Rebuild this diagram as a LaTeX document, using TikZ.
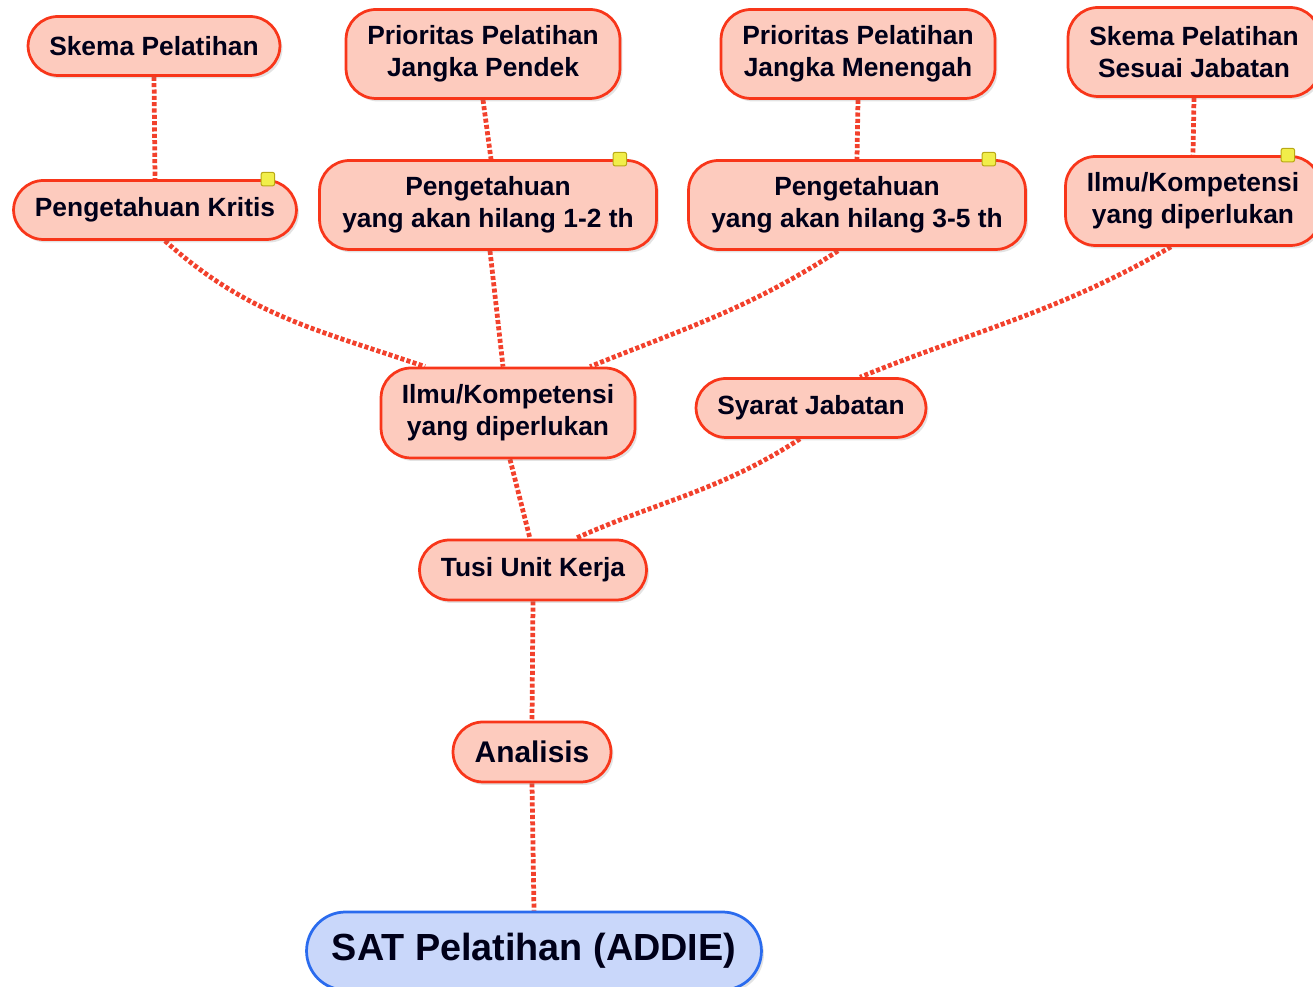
\documentclass[tikz,border=0pt]{standalone}
\usepackage{fontspec}
\setmainfont{Liberation Sans}
\usetikzlibrary{shadows,backgrounds}

\definecolor{boxfill}{HTML}{FDCBBE}
\definecolor{boxline}{HTML}{F8361A}
\definecolor{rootfill}{HTML}{C9D7FA}
\definecolor{rootline}{HTML}{2A6BEE}
\definecolor{linkred}{HTML}{F2412C}
\definecolor{notefill}{HTML}{F1EE4A}
\definecolor{noteline}{HTML}{B9A915}

\tikzset{
  topic/.style={draw=boxline,fill=boxfill,line width=.055cm,rounded corners=.6cm,
    align=center,inner sep=0pt,text=black!90!blue,
    font=\fontsize{15}{18}\selectfont\bfseries,
    drop shadow={opacity=.22,shadow xshift=.05cm,shadow yshift=-.06cm}},
  root/.style={topic,draw=rootline,fill=rootfill,rounded corners=.78cm,
    font=\fontsize{21.5}{24}\selectfont\bfseries},
  link/.style={draw=linkred,line width=.095cm,dash pattern=on 2.3pt off 1.3pt},
  note/.style={draw=noteline,fill=notefill,line width=.02cm,rounded corners=.04cm,
    minimum size=.27cm,inner sep=0pt}
}

\begin{document}
\begin{tikzpicture}[x=0.02cm,y=0.02cm]
  \useasboundingbox (0,0) rectangle (1313,987);
  % upper row
  \node[topic,minimum width=5.04cm,minimum height=1.18cm] (skema) at (154,941) {Skema Pelatihan};
  \node[topic,minimum width=5.48cm,minimum height=1.78cm] (pendek) at (483,933) {Prioritas Pelatihan\\Jangka Pendek};
  \node[topic,minimum width=5.48cm,minimum height=1.78cm] (menengah) at (858,933) {Prioritas Pelatihan\\Jangka Menengah};
  \node[topic,minimum width=5.04cm,minimum height=1.78cm] (sesuai) at (1194,935) {Skema Pelatihan\\Sesuai Jabatan};
  % second row
  \node[topic,minimum width=5.66cm,minimum height=1.18cm] (kritis) at (155,777) {Pengetahuan Kritis};
  \node[topic,minimum width=6.74cm,minimum height=1.78cm] (hilang12) at (488,782) {Pengetahuan\\yang akan hilang 1-2 th};
  \node[topic,minimum width=6.74cm,minimum height=1.78cm] (hilang35) at (857,782) {Pengetahuan\\yang akan hilang 3-5 th};
  \node[topic,minimum width=5.1cm,minimum height=1.78cm] (ilmukanan) at (1193,786) {Ilmu/Kompetensi\\yang diperlukan};
  % notes
  \node[note] (notea) at ([xshift=-.6cm]kritis.north east) {};
  \node[note] (noteb) at ([xshift=-.76cm]hilang12.north east) {};
  \node[note] (notec) at ([xshift=-.76cm]hilang35.north east) {};
  \node[note] (noted) at ([xshift=-.68cm]ilmukanan.north east) {};
  % middle
  \node[topic,minimum width=5.08cm,minimum height=1.8cm] (ilmu) at (508,574) {Ilmu/Kompetensi\\yang diperlukan};
  \node[topic,minimum width=4.6cm,minimum height=1.18cm] (syarat) at (811,579) {Syarat Jabatan};
  \node[topic,minimum width=4.54cm,minimum height=1.2cm] (tusi) at (533,417) {Tusi Unit Kerja};
  \node[topic,minimum width=3.16cm,minimum height=1.2cm,
    font=\fontsize{17}{20}\selectfont\bfseries] (analisis) at (532,235) {Analisis};
  \node[root,minimum width=9.1cm,minimum height=1.56cm] (sat) at (534,36) {SAT Pelatihan (ADDIE)};

  \begin{scope}[on background layer]
    \draw[link] (skema.south) -- (kritis.north);
    \draw[link] (pendek.south) -- ([xshift=.06cm]hilang12.north);
    \draw[link] (menengah.south) -- (hilang35.north);
    \draw[link] (sesuai.south) -- (ilmukanan.north);
    \draw[link] ([xshift=.2cm]kritis.south) to[out=-42,in=161] ([xshift=-1.66cm]ilmu.north);
    \draw[link] ([xshift=.04cm]hilang12.south) -- ([xshift=-.1cm]ilmu.north);
    \draw[link] ([xshift=-.38cm]hilang35.south) to[out=-147,in=22] ([xshift=1.64cm]ilmu.north);
    \draw[link] ([xshift=-.44cm]ilmukanan.south) to[out=-150,in=22] ([xshift=.98cm]syarat.north);
    \draw[link] ([xshift=.04cm]ilmu.south) -- ([xshift=-.06cm]tusi.north);
    \draw[link] ([xshift=-.22cm]syarat.south) to[out=-147,in=24] ([xshift=.84cm]tusi.north);
    \draw[link] (tusi.south) -- (analisis.north);
    \draw[link] (analisis.south) -- (sat.north);
  \end{scope}
\end{tikzpicture}
\end{document}
